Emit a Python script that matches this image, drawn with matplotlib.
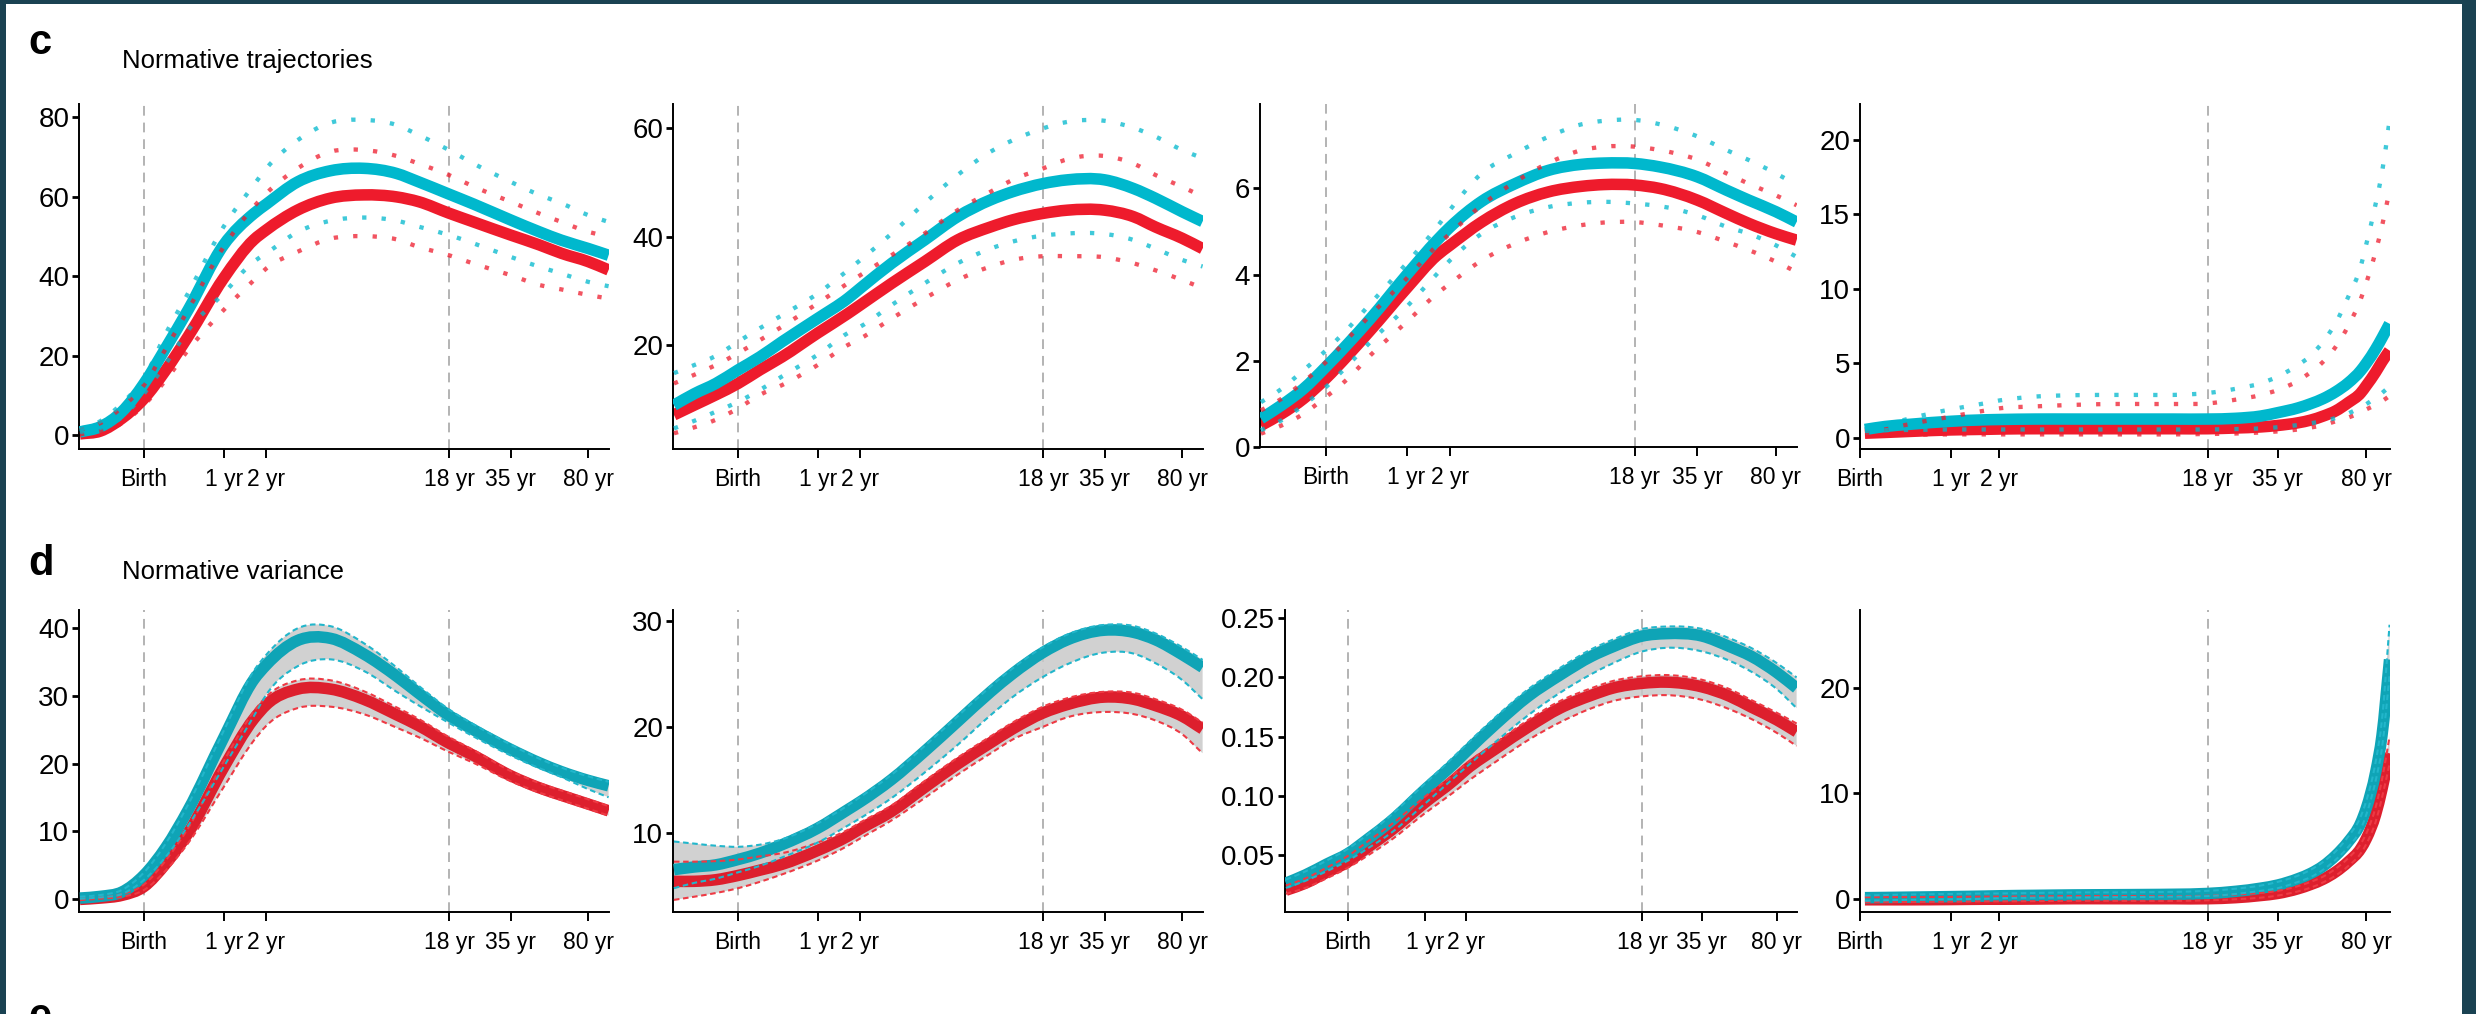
import numpy as np
import matplotlib
matplotlib.use('Agg')
import matplotlib.pyplot as plt
from matplotlib.patches import Rectangle, PathPatch
from matplotlib.path import Path
from matplotlib.ticker import NullLocator

plt.rcParams['font.family'] = ['Liberation Sans', 'DejaVu Sans']
plt.rcParams['lines.scale_dashes'] = False

# ages in post-conception days (log axis)
AGE = [143, 177, 222, 280, 352, 444, 645, 885, 1010, 1403, 1982, 2800, 3955, 4979,
       6850, 8854, 13055, 17667, 22241, 29480, 36500]
AGE_OLD = [293, 352, 444, 645, 885, 1010, 1403, 1982, 2800, 3955, 4979, 6850, 8854,
           11147, 13055, 15745, 17667, 19822, 22241, 24955, 28000, 29480, 32120, 34050, 36500]
TICK_DAYS = [280, 645, 1010, 6850, 13055, 29480]
TICK_LABELS = ['Birth', '1 yr', '2 yr', '18 yr', '35 yr', '80 yr']

# c: normative trajectories (male = teal, female = red), median and outer centiles
c1_m = [0.8, 2.1, 5.9, 13, 22, 31.5, 47.9, 55.8, 58.2, 63.8, 66.6, 67.2, 65.9, 63.8, 60.7, 58.2, 54.2, 51.2, 49.1, 47.0, 45.3]
c1_f = [0.3, 1.0, 4.2, 9.2, 16.4, 24.8, 39.5, 49.2, 51.7, 56.7, 59.7, 60.5, 60.0, 58.8, 55.9, 53.7, 50.4, 47.9, 45.8, 43.7, 41.6]
c1_mu = [1.5, 3.5, 8, 14.3, 25.6, 35.7, 52.5, 63, 67.2, 74.3, 78.7, 79.4, 78.1, 75.6, 71.8, 68.4, 63.8, 60.5, 58.4, 55.4, 53.7]
c1_fu = [1.3, 3, 7, 12.6, 21.8, 31.5, 47.4, 57.5, 60.9, 67.2, 71.4, 71.8, 70.3, 68.4, 65.5, 62.6, 58.8, 55.8, 53.7, 51.2, 50]
c1_ml = [0.8, 1.8, 4.5, 10.5, 18, 26.4, 35.7, 43.7, 45.8, 51.2, 54, 54.8, 54, 52.5, 50.4, 48.3, 44.9, 42.4, 40.7, 38.6, 37.5]
c1_fl = [0.2, 1, 3, 7.6, 13.9, 21.4, 31.5, 39, 42, 46.2, 49.5, 50.1, 49.3, 47.4, 45.3, 43.2, 40.3, 37.8, 36.7, 35.3, 34.4]

c2_m = [8.9, 11, 12.9, 15.4, 17.8, 20.6, 24.9, 28.6, 30.5, 35.1, 39.4, 43.7, 46.8, 48.3, 49.8, 50.5, 50.5, 48.9, 47.1, 44.6, 42.8]
c2_f = [7.1, 8.9, 10.8, 12.9, 15.4, 17.8, 22.2, 25.8, 27.4, 31.4, 35.4, 39.4, 41.8, 43.1, 44.3, 44.9, 44.9, 43.7, 41.8, 39.7, 37.8]
c2_mu = [14.8, 16.3, 18, 20.6, 23.1, 25.5, 29.5, 33.8, 35.7, 40.6, 46.2, 51.4, 55.7, 57.8, 60, 61.2, 61.4, 60.1, 58.5, 56, 54.5]
c2_fu = [12.9, 14.5, 16.3, 18.5, 20.9, 23.4, 27.7, 31.4, 32.9, 36.6, 40.6, 44.9, 48.3, 50.5, 52.6, 54.3, 54.9, 53.5, 51.4, 49.2, 47.4]
c2_ml = [4.6, 6, 7.7, 9.5, 11.7, 14.2, 18.2, 22.2, 23.4, 27.4, 31.4, 35.1, 37.8, 39.1, 40.2, 40.6, 40.5, 39.4, 37.8, 35.7, 34.5]
c2_fl = [3.7, 4.8, 6.2, 8.3, 10.8, 12.6, 16.3, 20, 21.2, 24.9, 28.6, 32, 34.5, 35.7, 36.4, 36.4, 36.2, 35.1, 33.8, 32, 30.5]

c3_m = [0.66, 0.97, 1.35, 1.86, 2.4, 2.98, 3.99, 4.8, 5.1, 5.7, 6.11, 6.42, 6.56, 6.59, 6.58, 6.5, 6.27, 5.96, 5.73, 5.46, 5.22]
c3_f = [0.5, 0.77, 1.12, 1.59, 2.13, 2.71, 3.68, 4.45, 4.68, 5.22, 5.65, 5.92, 6.05, 6.09, 6.08, 6.0, 5.73, 5.42, 5.19, 4.95, 4.8]
c3_mu = [1.04, 1.35, 1.78, 2.24, 2.75, 3.33, 4.26, 5.11, 5.5, 6.35, 6.81, 7.2, 7.49, 7.57, 7.59, 7.49, 7.21, 6.89, 6.66, 6.35, 6.08]
c3_fu = [0.85, 1.12, 1.51, 1.97, 2.52, 3.06, 3.91, 4.68, 4.95, 5.61, 6.15, 6.59, 6.89, 6.97, 6.97, 6.89, 6.67, 6.35, 6.11, 5.84, 5.61]
c3_ml = [0.39, 0.62, 0.97, 1.39, 1.9, 2.44, 3.25, 4.02, 4.33, 4.95, 5.34, 5.57, 5.67, 5.69, 5.65, 5.59, 5.38, 5.11, 4.95, 4.68, 4.41]
c3_fl = [0.31, 0.5, 0.77, 1.16, 1.59, 2.13, 2.9, 3.56, 3.79, 4.33, 4.72, 4.99, 5.15, 5.21, 5.22, 5.15, 4.99, 4.76, 4.57, 4.3, 4.06]

c4_m = [0.55, 0.75, 0.9, 1.1, 1.2, 1.22, 1.25, 1.25, 1.25, 1.25, 1.25, 1.25, 1.3, 1.45, 1.68, 2.0, 2.28, 2.62, 3.08, 3.68, 4.5, 5.0, 5.95, 6.7, 7.65]
c4_f = [0.3, 0.35, 0.42, 0.52, 0.56, 0.58, 0.6, 0.6, 0.6, 0.6, 0.6, 0.6, 0.65, 0.72, 0.82, 1.0, 1.18, 1.45, 1.8, 2.35, 3.0, 3.5, 4.4, 5.1, 5.85]
c4_mu = [0.55, 0.85, 1.3, 1.9, 2.31, 2.5, 2.76, 2.85, 2.87, 2.87, 2.87, 3.0, 3.28, 3.65, 4.1, 4.88, 5.5, 6.45, 7.7, 9.45, 11.5, 13.0, 15.7, 17.8, 21.3]
c4_fu = [0.4, 0.56, 0.92, 1.41, 1.82, 1.97, 2.1, 2.2, 2.26, 2.26, 2.26, 2.3, 2.55, 2.86, 3.2, 3.82, 4.4, 5.1, 6.1, 7.5, 9.3, 10.4, 12.5, 14.2, 16.6]
c4_ml = [0.45, 0.5, 0.52, 0.55, 0.55, 0.55, 0.55, 0.55, 0.55, 0.55, 0.55, 0.55, 0.58, 0.62, 0.7, 0.85, 0.97, 1.12, 1.32, 1.62, 2.05, 2.25, 2.7, 3.0, 3.45]
c4_fl = [0.15, 0.18, 0.2, 0.22, 0.22, 0.22, 0.22, 0.22, 0.22, 0.22, 0.22, 0.25, 0.28, 0.35, 0.42, 0.55, 0.68, 0.85, 1.1, 1.35, 1.7, 1.9, 2.2, 2.45, 2.8]

# d: normative variance, mean with upper/lower bounds
d1_m = [0.1, 0.35, 1.0, 3.5, 7.6, 13.1, 23.8, 32.4, 34.6, 38.2, 38.5, 36.2, 32.9, 30.4, 27.1, 25.0, 22.1, 20.1, 18.8, 17.5, 16.7]
d1_mu = [0.3, 0.55, 1.3, 3.9, 8.2, 13.9, 24.8, 33.7, 36.1, 40.0, 40.3, 37.8, 34.2, 31.5, 28.0, 25.8, 22.8, 20.7, 19.4, 18.1, 17.3]
d1_ml = [0, 0.2, 0.7, 2.8, 6.2, 10.8, 19.5, 27, 30.2, 34.4, 35.4, 33.7, 30.6, 28.6, 26.0, 24.0, 21.2, 19.3, 18.0, 16.2, 15.0]
d1_f = [-0.1, 0.1, 0.5, 1.8, 5.2, 9.7, 19.4, 26.6, 28.7, 31.0, 31.0, 29.5, 27.2, 25.6, 23.0, 21.2, 18.2, 16.4, 15.3, 14.0, 13.0]
d1_fu = [0.0, 0.2, 0.7, 2.1, 5.7, 10.4, 20.3, 27.7, 29.9, 32.3, 32.3, 30.7, 28.3, 26.6, 23.9, 22.0, 18.9, 17.1, 16.0, 14.7, 13.7]
d1_fl = [-0.2, 0, 0.3, 1.3, 4.2, 8.2, 16.5, 23.4, 25.6, 28.2, 28.4, 27.3, 25.3, 23.9, 21.7, 20.1, 17.4, 15.7, 14.6, 13.3, 12.3]

d2_m = [6.55, 6.8, 7.0, 7.5, 8.1, 8.9, 10.45, 12.2, 12.95, 15.05, 17.7, 20.5, 23.3, 25.0, 27.0, 28.2, 29.1, 28.9, 28.2, 26.8, 25.6]
d2_mu = [9.2, 9.0, 8.8, 8.7, 8.9, 9.4, 10.9, 12.6, 13.4, 15.5, 18.2, 21.0, 23.8, 25.5, 27.5, 28.7, 29.6, 29.5, 28.8, 27.5, 26.3]
d2_ml = [4.8, 5.3, 5.7, 6.3, 6.9, 7.7, 9.1, 10.7, 11.4, 13.3, 15.7, 18.3, 21.1, 22.8, 24.7, 25.9, 27.0, 26.9, 26.0, 24.4, 22.6]
d2_f = [5.45, 5.45, 5.6, 6.0, 6.5, 7.05, 8.35, 9.7, 10.4, 12.05, 14.3, 16.5, 18.5, 19.8, 21.3, 22.1, 22.8, 22.6, 22.0, 21.0, 19.8]
d2_fu = [7.3, 7.3, 7.35, 7.5, 7.8, 8.1, 9.1, 10.3, 11.0, 12.6, 14.9, 17.1, 19.1, 20.4, 21.9, 22.7, 23.3, 23.2, 22.6, 21.6, 20.4]
d2_fl = [3.7, 4.0, 4.35, 4.8, 5.4, 6.1, 7.4, 8.8, 9.5, 11.2, 13.3, 15.5, 17.5, 18.8, 20.0, 20.9, 21.4, 21.2, 20.6, 19.3, 17.5]

d3_m = [0.026, 0.033, 0.042, 0.051, 0.064, 0.078, 0.105, 0.127, 0.137, 0.161, 0.184, 0.202, 0.218, 0.226, 0.235, 0.237, 0.235, 0.226, 0.218, 0.204, 0.191]
d3_mu = [0.029, 0.036, 0.045, 0.055, 0.068, 0.083, 0.110, 0.133, 0.143, 0.167, 0.190, 0.208, 0.224, 0.232, 0.241, 0.243, 0.241, 0.233, 0.225, 0.212, 0.200]
d3_ml = [0.022, 0.028, 0.036, 0.045, 0.056, 0.068, 0.093, 0.115, 0.124, 0.146, 0.168, 0.187, 0.203, 0.212, 0.222, 0.225, 0.222, 0.214, 0.205, 0.19, 0.174]
d3_f = [0.02, 0.026, 0.035, 0.044, 0.057, 0.07, 0.094, 0.113, 0.122, 0.14, 0.158, 0.174, 0.185, 0.191, 0.195, 0.196, 0.192, 0.184, 0.175, 0.164, 0.154]
d3_fu = [0.024, 0.030, 0.039, 0.049, 0.062, 0.075, 0.099, 0.118, 0.127, 0.145, 0.164, 0.180, 0.191, 0.197, 0.201, 0.202, 0.198, 0.190, 0.181, 0.170, 0.161]
d3_fl = [0.017, 0.022, 0.03, 0.039, 0.05, 0.062, 0.085, 0.103, 0.111, 0.129, 0.147, 0.162, 0.174, 0.18, 0.184, 0.185, 0.181, 0.173, 0.165, 0.153, 0.142]

d4_m = [0.1, 0.12, 0.15, 0.2, 0.25, 0.28, 0.32, 0.36, 0.38, 0.4, 0.42, 0.5, 0.7, 1.0, 1.3, 1.9, 2.4, 3.1, 4.1, 5.4, 7.2, 8.6, 12.0, 15.5, 22.7]
d4_mu = [0.3, 0.35, 0.4, 0.45, 0.5, 0.5, 0.55, 0.6, 0.6, 0.62, 0.65, 0.75, 0.95, 1.25, 1.6, 2.2, 2.75, 3.5, 4.5, 5.9, 7.8, 9.3, 13.0, 17.0, 26.0]
d4_ml = [-0.2, -0.15, -0.1, -0.05, 0, 0.05, 0.1, 0.12, 0.15, 0.17, 0.2, 0.25, 0.45, 0.75, 1.0, 1.6, 2.05, 2.75, 3.7, 4.9, 6.6, 8.0, 11.2, 14.3, 21.2]
d4_f = [-0.1, -0.1, -0.1, -0.08, -0.05, -0.05, -0.03, 0, 0, 0, 0, 0.0, 0.1, 0.3, 0.5, 0.95, 1.35, 1.85, 2.55, 3.5, 4.75, 5.7, 8.0, 10.4, 13.8]
d4_fu = [0.15, 0.15, 0.15, 0.17, 0.2, 0.2, 0.22, 0.25, 0.25, 0.25, 0.25, 0.28, 0.4, 0.55, 0.75, 1.2, 1.6, 2.1, 2.85, 3.85, 5.2, 6.2, 8.7, 11.3, 15.4]
d4_fl = [-0.3, -0.3, -0.3, -0.28, -0.25, -0.25, -0.23, -0.2, -0.2, -0.2, -0.2, -0.15, -0.05, 0.1, 0.3, 0.7, 1.05, 1.55, 2.2, 3.1, 4.3, 5.2, 7.3, 9.6, 12.8]

TEAL = '#00B8CD'
RED = '#EE1B2C'
TEAL_D = '#0FA4B6'
RED_D = '#DD1F2D'
BORDER = '#1A4252'

W, H = 2476, 1014


def box(left, right, top, bottom):
    return [left / W, 1 - bottom / H, (right - left) / W, (bottom - top) / H]


def bez(x, y):
    # smooth curve through the read points (cubic Hermite in log-age space)
    lx = np.log10(np.asarray(x, float))
    y = np.asarray(y, float)
    h = np.diff(lx)
    d = np.diff(y) / h
    m = np.empty(len(lx))
    m[0], m[-1] = d[0], d[-1]
    m[1:-1] = (d[1:] * h[:-1] + d[:-1] * h[1:]) / (h[:-1] + h[1:])
    v = [(lx[0], y[0])]
    for i in range(len(lx) - 1):
        v.append((lx[i] + h[i] / 3, y[i] + m[i] * h[i] / 3))
        v.append((lx[i + 1] - h[i] / 3, y[i + 1] - m[i + 1] * h[i] / 3))
        v.append((lx[i + 1], y[i + 1]))
    v = np.array(v)
    v[:, 0] = 10 ** v[:, 0]
    return v


def smooth(ax, x, y, **kw):
    v = bez(x, y)
    codes = [Path.MOVETO] + [Path.CURVE4] * (len(v) - 1)
    ax.add_patch(PathPatch(Path(v, codes), fill=False, **kw))


def ribbon(ax, x, lo, hi, **kw):
    a = bez(x, hi)
    b = bez(x[::-1], lo[::-1])
    v = np.vstack([a, b, a[:1]])
    codes = ([Path.MOVETO] + [Path.CURVE4] * (len(a) - 1) + [Path.LINETO]
             + [Path.CURVE4] * (len(b) - 1) + [Path.CLOSEPOLY])
    ax.add_patch(PathPatch(Path(v, codes), lw=0, **kw))


def setup(ax, xlim, ylim, yticks, ylabels, vlines):
    ax.set_xscale('log')
    ax.set_xlim(xlim)
    ax.set_ylim(ylim)
    ax.set_xticks(TICK_DAYS)
    ax.set_xticklabels(TICK_LABELS)
    ax.xaxis.set_minor_locator(NullLocator())
    ax.set_yticks(yticks)
    ax.set_yticklabels(ylabels)
    for s in ['top', 'right']:
        ax.spines[s].set_visible(False)
    for s in ['left', 'bottom']:
        ax.spines[s].set_linewidth(1.4)
    ax.tick_params(axis='x', labelsize=16.5, length=6.5, width=1.4, pad=7)
    ax.tick_params(axis='y', labelsize=20, length=5, width=2, pad=2)
    for v in vlines:
        ax.axvline(v, color='#b3b3b3', lw=1.4, dashes=(7, 5), zorder=0)


def trajectories(ax, age, m, f, mu, fu, ml, fl):
    smooth(ax, age, f, edgecolor=RED, lw=8.3, capstyle='butt', zorder=2)
    smooth(ax, age, m, edgecolor=TEAL, lw=8.3, capstyle='butt', zorder=3)
    for y, c in [(fu, RED), (fl, RED), (mu, TEAL), (ml, TEAL)]:
        smooth(ax, age, y, edgecolor=c, lw=3.1, alpha=0.75, linestyle=(0, (3.1, 10.9)),
               capstyle='butt', zorder=4)


def variance(ax, age, m, mu, ml, f, fu, fl):
    ribbon(ax, age, fl, fu, facecolor='#c9c9c9', alpha=0.85, zorder=1)
    ribbon(ax, age, ml, mu, facecolor='#c9c9c9', alpha=0.85, zorder=1)
    smooth(ax, age, f, edgecolor=RED_D, lw=8.3, capstyle='butt', zorder=2)
    smooth(ax, age, m, edgecolor=TEAL_D, lw=8.3, capstyle='butt', zorder=3)
    for y, c in [(fu, '#EE3A44'), (fl, '#EE3A44'), (mu, '#22B6CB'), (ml, '#22B6CB')]:
        smooth(ax, age, y, edgecolor=c, lw=1.5, linestyle=(0, (4, 2.6)), zorder=4)


fig = plt.figure(figsize=(W / 100, H / 100), dpi=100, facecolor=BORDER)
fig.patches.append(Rectangle((6 / W, 0), (2462 - 6) / W, (H - 4) / H,
                             transform=fig.transFigure, facecolor='white',
                             edgecolor='none', zorder=-1))

XL = (141.6, 36650)
XL_OLD = (280, 36650)

# row c
ax = fig.add_axes(box(79, 609, 104, 449))
setup(ax, XL, (-3.5, 83.4), [0, 20, 40, 60, 80], ['0', '20', '40', '60', '80'], [280, 6850])
trajectories(ax, AGE, c1_m, c1_f, c1_mu, c1_fu, c1_ml, c1_fl)

ax = fig.add_axes(box(673, 1203, 104, 449))
setup(ax, XL, (0.8, 64.5), [20, 40, 60], ['20', '40', '60'], [280, 6850])
trajectories(ax, AGE, c2_m, c2_f, c2_mu, c2_fu, c2_ml, c2_fl)

ax = fig.add_axes(box(1260, 1797, 104, 447))
setup(ax, XL, (0, 7.96), [0, 2, 4, 6], ['0', '2', '4', '6'], [280, 6850])
trajectories(ax, AGE, c3_m, c3_f, c3_mu, c3_fu, c3_ml, c3_fl)

ax = fig.add_axes(box(1860, 2390, 104, 449))
setup(ax, XL_OLD, (-0.76, 22.4), [0, 5, 10, 15, 20], ['0', '5', '10', '15', '20'], [6850])
trajectories(ax, AGE_OLD, c4_m, c4_f, c4_mu, c4_fu, c4_ml, c4_fl)

# row d
ax = fig.add_axes(box(79, 609, 610, 912))
setup(ax, XL, (-1.96, 42.7), [0, 10, 20, 30, 40], ['0', '10', '20', '30', '40'], [280, 6850])
variance(ax, AGE, d1_m, d1_mu, d1_ml, d1_f, d1_fu, d1_fl)

ax = fig.add_axes(box(673, 1203, 610, 912))
setup(ax, XL, (2.56, 31.0), [10, 20, 30], ['10', '20', '30'], [280, 6850])
variance(ax, AGE, d2_m, d2_mu, d2_ml, d2_f, d2_fu, d2_fl)

ax = fig.add_axes(box(1285, 1797, 610, 912))
setup(ax, XL, (0.0016, 0.257), [0.05, 0.10, 0.15, 0.20, 0.25],
      ['0.05', '0.10', '0.15', '0.20', '0.25'], [280, 6850])
variance(ax, AGE, d3_m, d3_mu, d3_ml, d3_f, d3_fu, d3_fl)

ax = fig.add_axes(box(1860, 2390, 610, 912))
setup(ax, XL_OLD, (-1.26, 27.4), [0, 10, 20], ['0', '10', '20'], [6850])
variance(ax, AGE_OLD, d4_m, d4_mu, d4_ml, d4_f, d4_fu, d4_fl)

# panel letters and titles
fig.text(28 / W, 1 - 54 / H, 'c', fontsize=30, fontweight='bold', va='baseline')
fig.text(122 / W, 1 - 68 / H, 'Normative trajectories', fontsize=18.5, va='baseline')
fig.text(28 / W, 1 - 575 / H, 'd', fontsize=30, fontweight='bold', va='baseline')
fig.text(122 / W, 1 - 579 / H, 'Normative variance', fontsize=18.5, va='baseline')
fig.text(28 / W, 1 - 1028 / H, 'e', fontsize=30, fontweight='bold', va='baseline')

fig.savefig('out.png', dpi=100, facecolor=fig.get_facecolor())
